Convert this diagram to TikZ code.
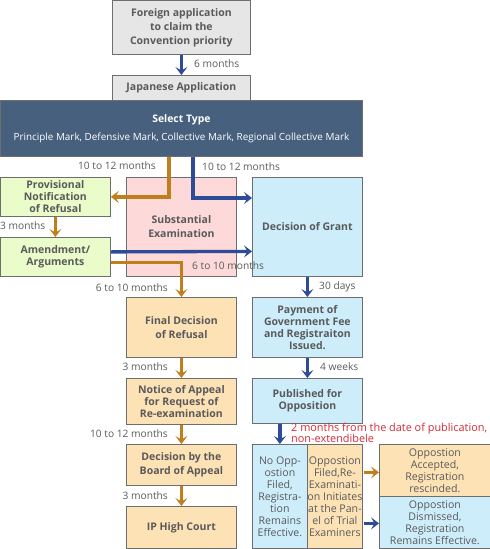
\documentclass[tikz,border=0pt]{standalone}
\usepackage{fontspec}
\setmainfont{Open Sans}
\usetikzlibrary{arrows.meta,calc}
\definecolor{boxgray}{HTML}{E6E6E6}
\definecolor{selblue}{HTML}{46607E}
\definecolor{lgreen}{HTML}{EBFCCB}
\definecolor{lpink}{HTML}{FDD9DA}
\definecolor{lblue}{HTML}{CDEDFB}
\definecolor{lorange}{HTML}{FDE2B6}
\definecolor{bordergray}{HTML}{6E6E6E}
\definecolor{textgray}{HTML}{5A5A5A}
\definecolor{arrorange}{HTML}{C17F1C}
\definecolor{arrblue}{HTML}{2D4B97}
\definecolor{redtext}{HTML}{D42B37}
\begin{document}
\begin{tikzpicture}[x=1pt,y=-1pt,
  box/.style={draw=bordergray,line width=0.8pt,align=center,inner sep=0pt,
    text=textgray,font=\fontsize{10.5}{12}\selectfont\bfseries,anchor=north west},
  rbox/.style={box,font=\fontsize{10.6}{12}\selectfont},
  oarrow/.style={draw=arrorange,line width=3.3pt,-{Stealth[length=8pt,width=12pt,inset=3.5pt]}},
  barrow/.style={draw=arrblue,line width=3.3pt,-{Stealth[length=8pt,width=12pt,inset=3.5pt]}},
  lab/.style={text=textgray,font=\fontsize{10.2}{11}\selectfont,inner sep=0pt},
]
\useasboundingbox (0,0) rectangle (490,549);

% boxes
\node[box,fill=boxgray,minimum width=138pt,minimum height=54pt,font=\fontsize{10.5}{14}\selectfont\bfseries] (foreign) at (112,0) {Foreign application\\to claim the\\Convention priority};
\node[box,fill=boxgray,minimum width=138pt,minimum height=25pt] (japan) at (112,75) {Japanese Application};
\node[box,fill=selblue,text=white,minimum width=362pt,minimum height=56pt,font=\fontsize{10.4}{18}\selectfont] (select) at (0,100) {\textbf{Select Type}\\\fontsize{9.9}{18}\selectfont Principle Mark, Defensive Mark, Collective Mark, Regional Collective Mark};

\node[box,fill=lgreen,minimum width=110pt,minimum height=39pt] (prov) at (0,177) {Provisional\\Notification\\of Refusal};
\node[box,fill=lpink,minimum width=110pt,minimum height=99pt,font=\fontsize{10.5}{14}\selectfont\bfseries] (subst) at (126,177) {Substantial\\Examination};
\node[box,fill=lblue,minimum width=110pt,minimum height=99pt] (grant) at (252,177) {Decision of Grant};
\node[box,fill=lgreen,minimum width=110pt,minimum height=39pt] (amend) at (0,237) {Amendment/\\Arguments};

\node[box,fill=lorange,minimum width=110pt,minimum height=60pt,font=\fontsize{10.5}{14}\selectfont\bfseries] (final) at (126,297) {Final Decision\\of Refusal};
\node[box,fill=lblue,minimum width=110pt,minimum height=60pt] (pay) at (252,297) {Payment of\\Government Fee\\and Registraiton\\Issued.};

\node[box,fill=lorange,minimum width=110pt,minimum height=46pt] (notice) at (126,378) {Notice of Appeal\\for Request of\\Re-examination};
\node[box,fill=lblue,minimum width=110pt,minimum height=45pt] (pub) at (252,378) {Published for\\Opposition};

\node[box,fill=lorange,minimum width=110pt,minimum height=41pt,font=\fontsize{10.5}{14}\selectfont\bfseries] (board) at (126,444) {Decision by the\\Board of Appeal};
\node[box,fill=lorange,minimum width=110pt,minimum height=42pt] (court) at (126,506) {IP High Court};

\node[rbox,fill=lblue,minimum width=55pt,minimum height=104pt] (noopp) at (252,444) {No Opp-\\ostion\\Filed,\\Registra-\\tion\\Remains\\Effective.};
\node[rbox,fill=lorange,minimum width=55pt,minimum height=104pt] (oppf) at (307,444) {Oppostion\\Filed,Re-\\Examinati-\\on Initiates\\at the Pan-\\el of Trial\\Examiners};

\node[rbox,fill=lorange,minimum width=111pt,minimum height=52pt] (acc) at (379,444) {Oppostion\\Accepted,\\Registration\\rescinded.};
\node[rbox,fill=lblue,minimum width=111pt,minimum height=52pt] (dis) at (379,496) {Oppostion\\Dismissed,\\Registration\\Remains Effective.};

% connectors
\draw[barrow] (foreign.south) -- (japan.north);
\draw[oarrow] ($(select.south west)+(169,0)$) |- (prov.east);
\draw[barrow] ($(select.south west)+(193,0)$) |- ($(grant.north west)+(0,21)$);
\draw[oarrow] (prov.south) -- (amend.north);
\draw[barrow] ($(amend.east)+(0,-5)$) -- ($(grant.west)+(0,-5)+(0,29.5)$);
\draw[oarrow] ($(amend.east)+(0,5.5)$) -| (final.north);
\draw[barrow] (grant.south) -- (pay.north);
\draw[oarrow] (final.south) -- (notice.north);
\draw[barrow] (pay.south) -- (pub.north);
\draw[oarrow] (notice.south) -- (board.north);
\draw[barrow] (pub.south -| noopp.north) -- (noopp.north);
\draw[oarrow] (board.south) -- (court.north);
\draw[oarrow] ($(oppf.east |- acc.west)+(1.5,2)$) -- ($(acc.west)+(0,2)$);
\draw[barrow] ($(oppf.east |- dis.west)+(1.5,1)$) -- ($(dis.west)+(0,1)$);

% labels
\node[lab,anchor=west] (l6m) at (194,64) {6 months};
\node[lab,anchor=east] (l1012a) at (156,166) {10 to 12 months};
\node[lab,anchor=west] (l1012b) at (202,167) {10 to 12 months};
\node[lab,anchor=west] (l3ma) at (0,226) {3 months};
\node[lab,anchor=west] (l610a) at (192,266) {6 to 10 months};
\node[lab,anchor=east] (l610b) at (168,288) {6 to 10 months};
\node[lab,anchor=west] (l30d) at (319,287) {30 days};
\node[lab,anchor=east] (l3mb) at (168,367) {3 months};
\node[lab,anchor=west] (l4w) at (320,367) {4 weeks};
\node[lab,anchor=east] (l1012c) at (168,434) {10 to 12 months};
\node[lab,anchor=east] (l3mc) at (168,496) {3 months};
\node[lab,anchor=north west,text=redtext,align=left,font=\fontsize{10.9}{10.5}\selectfont] (red) at (291,422.5) {2 months from the date of publication,\\non-extendibele};
\end{tikzpicture}
\end{document}
